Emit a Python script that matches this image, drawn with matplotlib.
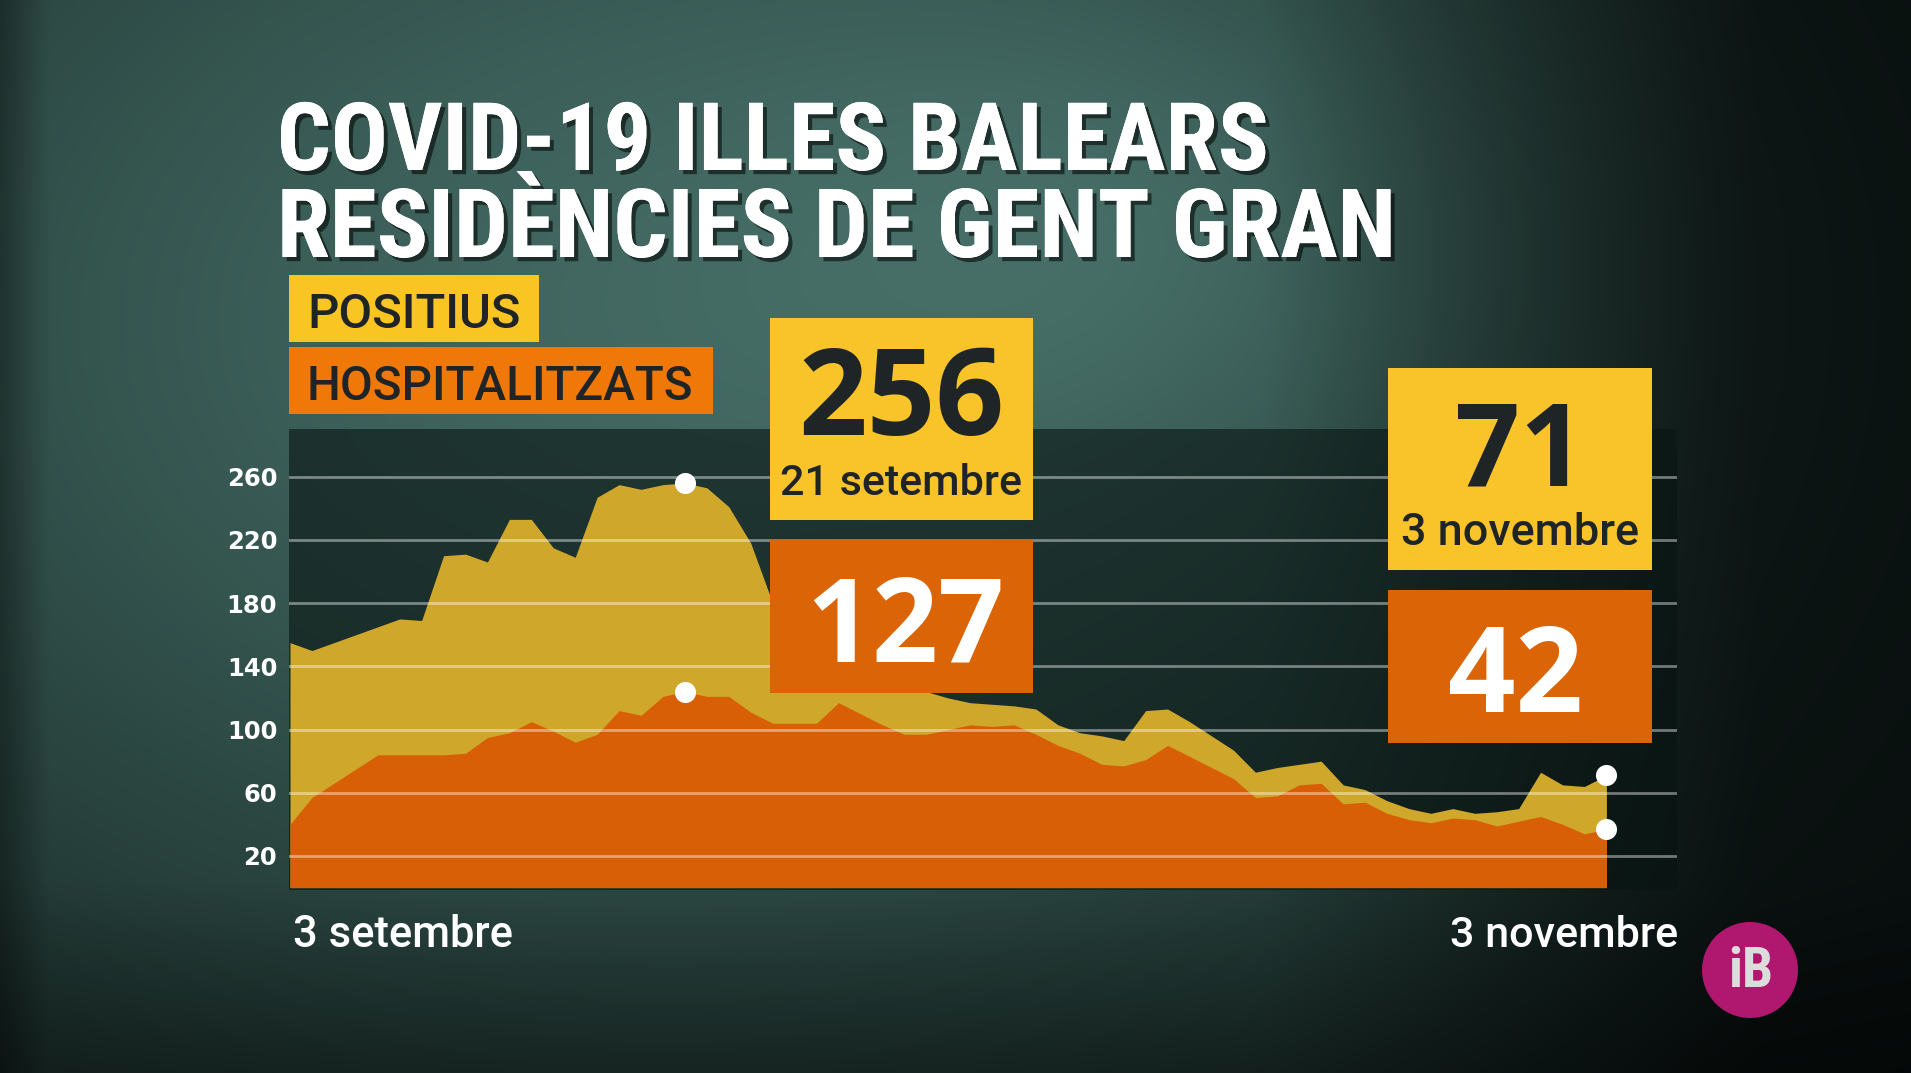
import numpy as np
import matplotlib
matplotlib.use('Agg')
import matplotlib.pyplot as plt
from matplotlib import font_manager
from matplotlib.patches import Rectangle, Circle
import matplotlib.patheffects as pe

# ---------------- data ----------------
days = list(range(61))  # 3 setembre .. 3 novembre
positius = [155, 150, 155, 160, 165, 170, 169, 210, 211, 206,
            233, 233, 215, 209, 247, 255, 252, 255, 256, 253,
            241, 218, 180, 155, 142, 135, 131, 128, 126, 124,
            120, 117, 116, 115, 113, 103, 98, 96, 93, 112,
            113, 105, 96, 87, 73, 76, 78, 80, 65, 62,
            55, 50, 47, 50, 47, 48, 50, 73, 65, 64,
            71]
hospitalitzats = [40, 57, 66, 75, 84, 84, 84, 84, 85, 95,
                  98, 105, 99, 92, 97, 112, 109, 121, 124, 121,
                  121, 111, 104, 104, 104, 117, 110, 103, 97, 97,
                  100, 103, 102, 103, 97, 90, 85, 78, 77, 81,
                  90, 83, 76, 69, 57, 58, 65, 66, 53, 54,
                  47, 43, 41, 44, 43, 39, 42, 45, 40, 34,
                  37]
y_ticks = [20, 60, 100, 140, 180, 220, 260]
x_labels = ['3 setembre', '3 novembre']
series_names = ['POSITIUS', 'HOSPITALITZATS']
title_lines = ['COVID-19 ILLES BALEARS', 'RESIDÈNCIES DE GENT GRAN']
highlight_idx = [18, 60]
highlight_dates = ['21 setembre', '3 novembre']
highlight_pos = ['256', '71']
highlight_hosp = ['127', '42']

# ---------------- fonts ----------------
names = {f.name for f in font_manager.fontManager.ttflist}
def pick(*cands):
    for c in cands:
        if c in names:
            return c
    return 'DejaVu Sans'
F_TITLE = pick('Liberation Sans Narrow', 'Roboto Condensed', 'DejaVu Sans')
F_MED = pick('Roboto', 'Open Sans', 'DejaVu Sans')
F_NUM = pick('Open Sans', 'Roboto', 'DejaVu Sans')

W, H, DPI = 1911, 1073, 100
fig = plt.figure(figsize=(W / DPI, H / DPI), dpi=DPI)

# ---------------- background ----------------
axbg = fig.add_axes([0, 0, 1, 1], zorder=0)
yy, xx = np.mgrid[0:1:270j, 0:1:480j]
b = np.exp(-((xx - 0.35) / 0.6) ** 2 - ((yy - 0.3) / 0.75) ** 2)
b2 = np.exp(-((xx - 0.6) / 0.2) ** 2 - ((yy - 0.2) / 0.25) ** 2)
dark = np.array([12, 24, 22]) / 255
light = np.array([74, 116, 108]) / 255
img = dark + (light - dark) * np.clip(b * 0.85 + b2 * 0.2, 0, 1)[..., None]
fade = np.clip((xx - 0.66) / 0.26, 0, 1)
img = img * (1 - 0.6 * fade)[..., None]
img = img * (1 - 0.35 * np.clip((0.025 - xx) / 0.025, 0, 1))[..., None]
img = img * (1 - 0.35 * np.clip((yy - 0.82) / 0.18, 0, 1))[..., None]
axbg.imshow(np.clip(img, 0, 1), extent=[0, 1, 0, 1], aspect='auto', interpolation='bicubic')
axbg.set_axis_off()

# ---------------- chart ----------------
px0, pxd = 290.0, 21.94          # pixel of day 0, pixels per day
py0, pyv = 887.6, 1.5804         # pixel of value 0, pixels per unit
L, R, T, B = 289, 1677, 429, 890
ax = fig.add_axes([L / W, (H - B) / H, (R - L) / W, (B - T) / H], zorder=1)
ax.set_facecolor((0.03, 0.08, 0.07, 0.6))
ax.set_xlim((L - px0) / pxd, (R - px0) / pxd)
ax.set_ylim((py0 - B) / pyv, (py0 - T) / pyv)
for s in ax.spines.values():
    s.set_visible(False)

YEL_AREA = '#cfa72a'
ORA_AREA = '#d85f05'
ax.fill_between(days, 0, positius, color=YEL_AREA, lw=0, zorder=2)
ax.fill_between(days, 0, hospitalitzats, color=ORA_AREA, lw=0, zorder=2.5)
for t in y_ticks:
    ax.axhline(t, color='white', alpha=0.42, lw=2.0, zorder=3)

ax.set_xticks([])
ax.set_yticks(y_ticks)
ax.set_yticklabels([str(t) for t in y_ticks], color='white', fontsize=17.5,
                   fontfamily='DejaVu Sans', fontweight='semibold')
ax.tick_params(axis='y', length=0, pad=8.5)

hx = [days[i] for i in highlight_idx]
ax.scatter(hx, [positius[i] for i in highlight_idx], s=230, color='white', zorder=5, lw=0)
ax.scatter(hx, [hospitalitzats[i] for i in highlight_idx], s=230, color='white', zorder=5, lw=0)

# ---------------- overlay (pixel coords) ----------------
ov = fig.add_axes([0, 0, 1, 1], zorder=3)
ov.set_xlim(0, W)
ov.set_ylim(H, 0)
ov.set_axis_off()
ov.patch.set_alpha(0)

DARK_TXT = '#1f2426'
fits = []

# title
shadow = [pe.withSimplePatchShadow(offset=(3, -3), shadow_rgbFace='black', alpha=0.55), pe.Normal()]
t1 = ov.text(277, 170, title_lines[0], color='white', fontsize=60, fontweight='bold',
             fontfamily=F_TITLE, ha='left', va='baseline', path_effects=shadow)
t2 = ov.text(277, 257, title_lines[1], color='white', fontsize=60, fontweight='bold',
             fontfamily=F_TITLE, ha='left', va='baseline', path_effects=shadow)
fits += [(t1, 991), (t2, 1119)]

# legend
ov.add_patch(Rectangle((289, 275), 539 - 289, 342 - 275, color='#f9c523', lw=0))
ov.add_patch(Rectangle((289, 347), 713 - 289, 414 - 347, color='#ef7808', lw=0))
l1 = ov.text(307, 328, series_names[0], color=DARK_TXT, fontsize=30, fontweight='medium',
             fontfamily=F_MED, ha='left', va='baseline')
l2 = ov.text(307, 400, series_names[1], color=DARK_TXT, fontsize=30, fontweight='medium',
             fontfamily=F_MED, ha='left', va='baseline')
fits += [(l1, 214), (l2, 386)]

# highlight boxes
boxes = [(770, 1033, 318, 520, 540, 693), (1388, 1652, 368, 570, 590, 743)]
num_w = [(206, 198), (130, 135)]
date_w = [242, 238]
for k, (x0, x1, yt, yb, ot, obm) in enumerate(boxes):
    cx = (x0 + x1) / 2
    ov.add_patch(Rectangle((x0, yt), x1 - x0, yb - yt, color='#f8c42a', lw=0))
    ov.add_patch(Rectangle((x0, ot), x1 - x0, obm - ot, color='#db6406', lw=0))
    n1 = ov.text(cx, yt + 117, highlight_pos[k], color=DARK_TXT, fontsize=80, fontweight='bold',
                 fontfamily=F_NUM, ha='center', va='baseline')
    d1 = ov.text(cx, yt + 177, highlight_dates[k], color=DARK_TXT, fontsize=30, fontweight='medium',
                 fontfamily=F_MED, ha='center', va='baseline')
    n2 = ov.text(cx + (4 if k == 0 else -5), ot + 122, highlight_hosp[k], color='white', fontsize=80,
                 fontweight='bold', fontfamily=F_NUM, ha='center', va='baseline')
    fits += [(n1, num_w[k][0]), (d1, date_w[k]), (n2, num_w[k][1])]

# x labels
xl1 = ov.text(293, 947, x_labels[0], color='white', fontsize=28, fontweight='medium',
              fontfamily=F_MED, ha='left', va='baseline')
xl2 = ov.text(1678, 947, x_labels[1], color='white', fontsize=28, fontweight='medium',
              fontfamily=F_MED, ha='right', va='baseline')
fits += [(xl1, 220), (xl2, 228)]

# logo
ov.add_patch(Circle((1750, 970), 48, color='#b0176f', lw=0))
ov.text(1751, 972, 'iB', color='#dcdcdc', fontsize=40, fontweight='bold',
        fontfamily=F_TITLE, ha='center', va='center')

# fit text widths
for _ in range(2):
    fig.canvas.draw()
    r = fig.canvas.get_renderer()
    for txt, tw in fits:
        bb = txt.get_window_extent(renderer=r)
        if bb.width > 0:
            txt.set_fontsize(txt.get_fontsize() * tw / bb.width)

fig.savefig('out.png', dpi=DPI)
